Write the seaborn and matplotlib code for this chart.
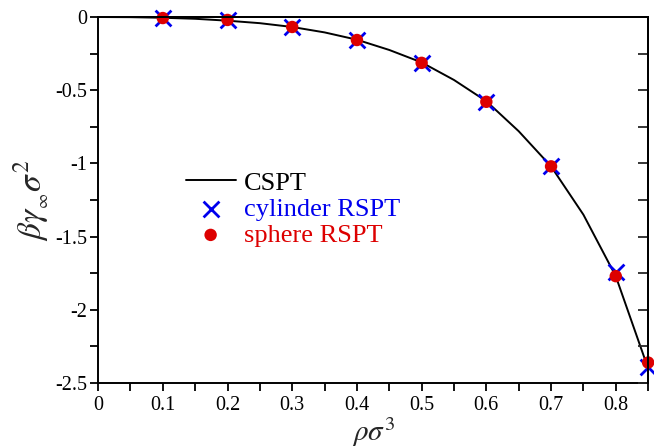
import pandas as pd
import seaborn as sns
import numpy as np
import matplotlib.pyplot as plt
from matplotlib.ticker import MultipleLocator

# CSPT curve
cspt_x = [0.0, 0.05, 0.1, 0.15, 0.2, 0.25, 0.3, 0.35, 0.4, 0.45, 0.5,
          0.55, 0.6, 0.65, 0.7, 0.75, 0.8, 0.85]
cspt_y = [0.0, -0.001, -0.005, -0.012, -0.025, -0.042, -0.068, -0.105, -0.155,
          -0.225, -0.31, -0.43, -0.575, -0.78, -1.02, -1.35, -1.77, -2.40]

# RSPT points
rho = [0.1, 0.2, 0.3, 0.4, 0.5, 0.6, 0.7, 0.8, 0.85]
cyl_y = [-0.007, -0.02, -0.068, -0.157, -0.313, -0.579, -1.02, -1.74, -2.39]
sph_y = [-0.007, -0.02, -0.068, -0.157, -0.313, -0.579, -1.02, -1.77, -2.36]

sns.set_style("white")
plt.rcParams['font.family'] = ['Liberation Serif', 'DejaVu Serif']
plt.rcParams['mathtext.fontset'] = 'stix'
plt.rcParams['axes.unicode_minus'] = False

fig = plt.figure(figsize=(6.54, 4.48), dpi=100)
ax = fig.add_axes([0.15, 0.145, 0.841, 0.817])

curve = pd.DataFrame({'x': cspt_x, 'y': cspt_y})
cyl = pd.DataFrame({'x': rho, 'y': cyl_y})
sph = pd.DataFrame({'x': rho, 'y': sph_y})

sns.lineplot(data=curve, x='x', y='y', color='black', linewidth=1.4, ax=ax,
             label='CSPT')
sns.scatterplot(data=cyl, x='x', y='y', marker='x', s=130, color='#0000ee',
                linewidth=2, ax=ax, label='cylinder RSPT', clip_on=False, zorder=3)
sns.scatterplot(data=sph, x='x', y='y', marker='o', s=80, color='#dd0000',
                edgecolor='none', ax=ax, label='sphere RSPT', clip_on=False, zorder=4)

ax.set_xlim(0, 0.85)
ax.set_ylim(-2.5, 0)
ax.xaxis.set_minor_locator(MultipleLocator(0.05))
ax.yaxis.set_minor_locator(MultipleLocator(0.25))
ax.set_xticks([0, 0.1, 0.2, 0.3, 0.4, 0.5, 0.6, 0.7, 0.8])
ax.set_xticklabels(['0', '0.1', '0.2', '0.3', '0.4', '0.5', '0.6', '0.7', '0.8'])
ax.set_yticks([0, -0.5, -1, -1.5, -2, -2.5])
ax.set_yticklabels(['0', '-0.5', '-1', '-1.5', '-2', '-2.5'])

for s in ax.spines.values():
    s.set_visible(True)
    s.set_linewidth(1.4)
    s.set_color('black')
    s.set_zorder(5)
ax.tick_params(which='both', direction='out', width=1.3, length=6, colors='black',
               labelsize=14.5, top=False, right=False, left=True, bottom=True)
ax.tick_params(axis='y', pad=2)

# inward ticks on the right side
rax = ax.twinx()
rax.set_ylim(-2.5, 0)
rax.yaxis.set_major_locator(MultipleLocator(0.25))
rax.tick_params(axis='y', direction='in', length=7, width=1.3, labelright=False)
for name, s in rax.spines.items():
    s.set_linewidth(1.4)
    s.set_color('black')
    s.set_visible(name in ('right', 'top'))

ax.set_xlabel(r'$\rho\sigma^3$', fontsize=21, labelpad=0)
ax.set_ylabel(r'$\beta\gamma_{_\infty}\sigma^2$', fontsize=24, labelpad=2)

leg = ax.legend(loc='upper left', bbox_to_anchor=(0.135, 0.615), frameon=False,
                fontsize=19, handlelength=1.9, handletextpad=0.3,
                labelspacing=0.1, borderpad=0)
for txt, c in zip(leg.get_texts(), ['black', '#0000ee', '#dd0000']):
    txt.set_color(c)

fig.savefig('out.png', dpi=100)
